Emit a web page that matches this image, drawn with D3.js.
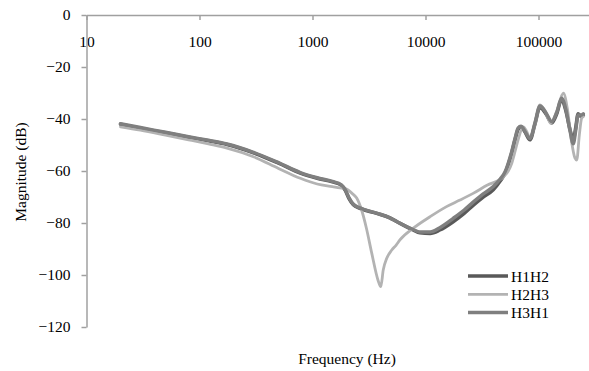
<!DOCTYPE html>
<html>
<head>
<meta charset="utf-8">
<script src="https://cdn.jsdelivr.net/npm/d3@7"></script>
<style>
  body { margin: 0; background: #fff; }
  svg text { font-family: "Liberation Serif", "Times New Roman", serif; fill: #000; }
</style>
</head>
<body>
<div id="chart"></div>
<script>
// frequency (Hz) / magnitude (dB)
var freqH1H2 = [20, 30, 50, 80, 120, 175, 300, 500, 780, 1100, 1500, 1800, 1950, 2100, 2300, 2630, 3700, 4840, 5600, 7770, 8900, 11000, 13400, 17600, 22000, 26400, 32000, 39800, 46000, 50400, 54000, 58000, 62000, 66000, 70000, 76000, 84000, 93000, 103000, 116000, 131000, 145000, 160000, 175000, 190000, 203000, 214000, 224000, 237000, 249000];
var magH1H2 = [-42, -43.5, -45.3, -47, -48.4, -49.8, -53, -57, -60.8, -62.8, -64.2, -65.5, -67.5, -70.5, -73, -74.4, -76.3, -78, -79.5, -82.7, -83.8, -84, -82.7, -79.5, -76.3, -73.2, -70.2, -67.2, -63.8, -61, -57.5, -53, -48, -44, -43, -45, -48, -42, -35.5, -38, -41.5, -38, -32.5, -37, -44, -48, -43, -38, -39, -38.5];

var freqH2H3 = [20, 30, 50, 80, 120, 175, 300, 500, 780, 1100, 1500, 1750, 1950, 2240, 2460, 2720, 3000, 3340, 3800, 4020, 4230, 4540, 5030, 5500, 5940, 7800, 10960, 15350, 20200, 26400, 35000, 49000, 54000, 58000, 62000, 66000, 73400, 79000, 84000, 93000, 103000, 116000, 128000, 145000, 166000, 180000, 195000, 210000, 218000, 230000, 241000, 250000];
var magH2H3 = [-43, -44.3, -46.2, -48, -49.6, -51.2, -54.5, -59, -62.8, -65, -66, -66.5, -66.8, -68.6, -70.4, -75, -82, -91.5, -102, -104.5, -98, -93.6, -90.4, -88.5, -86.5, -82, -77.6, -73.7, -71.2, -68.6, -65.5, -62.2, -60, -57, -52.5, -48, -43, -45, -47.4, -42, -34.6, -37.5, -41.7, -37, -30.1, -36, -48, -55, -55.8, -46, -39.7, -39];

var freqH3H1 = [20, 30, 50, 80, 120, 175, 300, 500, 780, 1100, 1500, 1800, 1950, 2100, 2300, 2630, 3700, 4840, 5600, 7770, 8900, 11000, 13400, 17600, 22000, 26400, 32000, 39800, 46000, 50400, 54000, 58000, 62000, 66000, 70000, 76000, 84000, 93000, 103000, 116000, 131000, 145000, 160000, 175000, 190000, 203000, 214000, 224000, 237000, 249000];
var magH3H1 = [-41.8, -43.3, -45.1, -46.8, -48.2, -49.6, -52.8, -56.8, -60.6, -62.6, -64, -65.3, -67.2, -70.2, -72.8, -74.2, -76.2, -78, -79.5, -82.5, -83.5, -83.5, -81.8, -78.2, -75, -72, -69, -66, -63, -60.5, -57, -52.5, -47.5, -43.5, -42.8, -44.8, -47.5, -41.5, -35, -37.5, -41, -37.5, -32, -36.5, -44.5, -49.5, -44, -38.5, -38.5, -38];

var seriesNames = ["H1H2", "H2H3", "H3H1"];
var seriesColors = ["#595959", "#b3b3b3", "#7f7f7f"];
var xTicks = [10, 100, 1000, 10000, 100000];
var yTicks = [0, -20, -40, -60, -80, -100, -120];

var width = 589, height = 371;
var plotLeft = 86.5, plotTop = 15, decade = 113, plotBottom = 327;

var svg = d3.select("#chart").append("svg").attr("width", width).attr("height", height);

var x = d3.scaleLog().domain([10, 1e6]).range([plotLeft, plotLeft + 5 * decade]);
var y = d3.scaleLinear().domain([-120, 0]).range([plotBottom, plotTop]);

// x axis sits on the 0 dB line, ticks pointing down
var xAxis = svg.append("g").attr("transform", "translate(0," + y(0) + ")")
  .call(d3.axisBottom(x).tickValues(xTicks).tickFormat(d3.format("d")).tickSizeInner(5).tickSizeOuter(0).tickPadding(16));
var yAxis = svg.append("g").attr("transform", "translate(" + plotLeft + ",0)")
  .call(d3.axisLeft(y).tickValues(yTicks).tickSizeInner(5).tickSizeOuter(0).tickPadding(11));

[xAxis, yAxis].forEach(function(g) {
  g.select(".domain").attr("stroke", "#a0a0a0").attr("stroke-width", 1.5);
  g.selectAll(".tick line").attr("stroke", "#a0a0a0").attr("stroke-width", 1.5);
  g.selectAll(".tick text").style("font-size", "15.5px").attr("fill", "#000");
});

var data = [
  d3.zip(freqH1H2, magH1H2),
  d3.zip(freqH2H3, magH2H3),
  d3.zip(freqH3H1, magH3H1)
];
var widths = [3.5, 2.8, 3.5];

var line = d3.line()
  .x(function(d) { return x(d[0]); })
  .y(function(d) { return y(d[1]); })
  .curve(d3.curveMonotoneX);

data.forEach(function(s, i) {
  svg.append("path").datum(s).attr("d", line)
    .attr("fill", "none").attr("stroke", seriesColors[i])
    .attr("stroke-width", widths[i]).attr("stroke-linejoin", "round").attr("stroke-linecap", "round");
});

// legend
var legend = svg.append("g").attr("transform", "translate(468,276)");
seriesNames.forEach(function(n, i) {
  var row = legend.append("g").attr("transform", "translate(0," + i * 18.3 + ")");
  row.append("line").attr("x1", 0).attr("x2", 40).attr("y1", 0).attr("y2", 0)
    .attr("stroke", seriesColors[i]).attr("stroke-width", widths[i]);
  row.append("text").attr("x", 43).attr("y", 5.5).style("font-size", "15.5px").text(n);
});

svg.append("text").attr("x", 347).attr("y", 364).attr("text-anchor", "middle")
  .style("font-size", "15.5px").text("Frequency (Hz)");
svg.append("text").attr("transform", "translate(26,172) rotate(-90)").attr("text-anchor", "middle")
  .style("font-size", "15.5px").text("Magnitude (dB)");
</script>
</body>
</html>
